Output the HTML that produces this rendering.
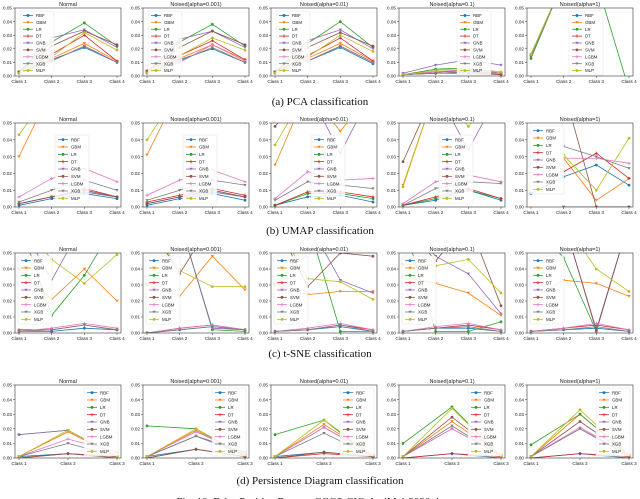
<!DOCTYPE html>
<html><head><meta charset="utf-8"><style>
body{margin:0;background:#fff;width:640px;height:499px;overflow:hidden;font-family:"Liberation Serif",serif}
svg{position:absolute;left:0;top:0}
</style></head><body>
<svg id="fig" width="640" height="499"></svg>
<script>
const NS="http://www.w3.org/2000/svg";
const seriesNames=["RBF","GBM","LR","DT","GNB","SVM","LGBM","XGB","MLP"];
const colors=["#1f77b4","#ff7f0e","#2ca02c","#d62728","#9467bd","#8c564b","#e377c2","#7f7f7f","#bcbd22"];
const titles=["Normal","Noised(alpha=0.001)","Noised(alpha=0.01)","Noised(alpha=0.1)","Noised(alpha=1)"];
const classes4=["Class 1","Class 2","Class 3","Class 4"];
const classes3=["Class 1","Class 2","Class 3"];
const yTicks=[0,0.01,0.02,0.03,0.04,0.05];
const yTickLabels=["0.00","0.01","0.02","0.03","0.04","0.05"];
const captions=["(a) PCA classification","(b) UMAP classification","(c) t-SNE classification","(d) Persistence Diagram classification"];
const H=0.07,N=null;
const pca=[
[[.002,.012,.021,.010],[.002,.013,.024,.011],[.003,.025,.039,.022],[.003,.016,.030,.011],[.003,.028,.034,.021],[.003,.022,.033,.023],[.002,.011,.022,.010],[.002,.011,.022,.010],[.002,.014,.032,.019]],
[[.002,.012,.020,.010],[.003,.013,.023,.012],[.003,.025,.038,.022],[.004,.015,.026,.012],[.002,.027,.033,.021],[.003,.021,.033,.023],[.002,.010,.023,.011],[.002,.011,.021,.010],[.002,.015,.028,.019]],
[[.002,.011,.021,.009],[.003,.013,.024,.011],[.003,.024,.040,.021],[.003,.015,.028,.011],[.003,.026,.034,.020],[.003,.021,.032,.022],[.002,.011,.022,.010],[.002,.011,.022,.010],[.002,.014,.030,.018]],
[[.001,.002,.002,.001],[.001,.003,.004,.002],[.001,.005,.006,.002],[.001,.002,.003,.001],[.002,.008,.012,.008],[.001,.003,.004,.002],[.001,.003,.005,.002],[.001,.002,.003,.002],[.001,.004,.006,.003]],
[[.015,H,H,H],[.016,H,H,H],[.013,H,H,-.01],[.015,H,H,H],[.016,H,H,H],[.015,H,H,H],[.015,H,H,H],[.015,H,H,H],[.016,H,H,H]]
];
const umap=[
[[.001,.005,.008,.005],[.030,H,H,H],[.002,.006,.009,.006],[.002,.006,.011,.006],[.002,.006,.009,.006],[.002,.006,.010,.006],[.006,.017,.023,.015],[.003,.010,.016,.010],[.043,H,H,H]],
[[.001,.005,.008,.004],[.031,H,H,.05],[.002,.006,.009,.006],[.003,.007,.011,.007],[.002,.006,.009,.006],[.002,.006,.010,.006],[.007,.016,.022,.015],[.004,.010,.016,.013],[.040,H,H,H]],
[[.001,.006,.007,.003],[.025,H,.045,H],[.001,.008,.008,.005],[.001,.009,.009,.006],[H,H,.032,H],[.048,H,H,H],[.005,.021,.016,.017],[.004,.015,.013,.011],[.037,H,H,H]],
[[.001,.004,.010,.004],[.013,H,H,H],[.001,.005,.010,.005],[.001,.006,.011,.005],[H,H,.034,H],[.027,H,H,H],[.002,.015,.019,.015],[.001,.011,.015,.014],[.012,H,.048,H]],
[[.008,.018,.025,.013],[N,.029,.004,.017],[N,0,0,0],[N,.021,.032,.017],[N,0,0,0],[N,H,0,0],[N,.029,.029,.026],[N,.036,.030,.023],[N,.031,.010,.041]]
];
const tsne=[
[[.001,.001,.003,.002],[.040,.021,.040,.020],[H,.011,.036,H],[.002,.002,.005,.002],[H,.033,H,H],[H,H,H,H],[.001,.003,.006,.003],[.001,.002,.005,.002],[H,.046,.031,.049]],
[[.000,.002,.004,.002],[.030,.023,.048,.027],[H,H,.002,.001],[.000,.003,.005,.002],[H,H,.003,.002],[H,.037,H,H],[.000,.003,.005,.002],[.000,.002,.004,.002],[H,.039,.029,.029]],
[[.001,.002,.004,.001],[.030,.024,.026,.026],[H,H,.001,.001],[.001,.002,.005,.002],[H,H,.033,.025],[H,.029,.050,.048],[.001,.003,.006,.002],[.001,.002,.005,.001],[H,.034,.032,.021]],
[[.001,.003,.003,.001],[.035,.031,.025,.011],[H,.001,.001,.007],[.001,.003,.005,.002],[H,.048,.037,.012],[H,.045,H,.017],[.001,.004,.006,.002],[.001,.003,.004,.001],[.043,.042,.046,.025]],
[[.001,.002,.003,.001],[.021,.033,.031,.023],[H,.047,.001,H],[.001,.003,.005,.002],[H,H,.001,H],[H,H,.002,H],[.001,.003,.006,.002],[.001,.002,.004,.001],[H,H,.040,.026]]
];
const pers=[
[[.001,.003,.001],[.001,.018,.001],[.016,.019,.001],[.000,.003,.001],[.016,.019,.001],[.000,.003,.000],[.001,.013,.004],[.001,.010,.001],[.001,.019,.001]],
[[.001,.006,.001],[.001,.019,.001],[.022,.020,.001],[.000,.006,.001],[.001,.015,.004],[.000,.006,.001],[.001,.018,.003],[.001,.015,.002],[.001,.020,.002]],
[[.001,.004,.001],[.001,.023,.002],[.016,.026,.000],[.000,.003,.001],[.001,.021,.002],[.000,.004,.001],[.001,.021,.002],[.001,.017,.001],[.001,.026,.002]],
[[.000,.003,.000],[.001,.025,.002],[.010,.035,.001],[.000,.003,.001],[.001,.020,.002],[.001,.028,.002],[.001,.020,.002],[.001,.022,.001],[.001,.034,.001]],
[[.000,.003,.000],[.001,.030,.002],[.009,.030,.002],[.000,.003,.001],[.001,.020,.002],[.001,.025,.002],[.001,.021,.002],[.001,.020,.001],[.001,.033,.002]]
];
const rows=[
 {data:pca,cls:classes4,top:8,bot:76,cap:101,leg:[[5,3],[5,3],[5,3],[58,3],[42,3]]},
 {data:umap,cls:classes4,top:123,bot:207,cap:230,leg:[[40,12],[40,12],[40,12],[40,12],[3,3]]},
 {data:tsne,cls:classes4,top:253,bot:333,cap:353,leg:[[3,3],[3,3],[3,3],[3,3],[3,3]]},
 {data:pers,cls:classes3,top:385,bot:458,cap:480,leg:[[69,3],[69,3],[69,3],[69,3],[69,3]]}
];
const svg=document.getElementById("fig");
function el(tag,attrs,parent,text){const e=document.createElementNS(NS,tag);for(const k in attrs)e.setAttribute(k,attrs[k]);if(text!==undefined)e.textContent=text;(parent||svg).appendChild(e);return e;}
function marker(g,x,y,c,i){
 if(i%3===1){el("path",{d:`M${x-1.6},${y-1.2}L${x+1.6},${y-1.2}L${x},${y+1.5}Z`,fill:c},g);}
 else if(i===3||i===6||i===7){el("path",{d:`M${x-1.6},${y}H${x+1.6}M${x},${y-1.6}V${y+1.6}`,stroke:c,"stroke-width":0.8},g);}
 else el("circle",{cx:x,cy:y,r:1.4,fill:c},g);
}
rows.forEach((r,ri)=>{
 for(let p=0;p<5;p++){
  const L=15+128*p,R=L+106,T=r.top,B=r.bot;
  const panel=el("g",{},svg);
  
  
  const n=r.cls.length;
  const xs=i=>L+4+i*(R-L-8)/(n-1);
  const ys=v=>B-(v/0.05)*(B-T);
  const cid="c"+ri+"_"+p;
  const cp=el("clipPath",{id:cid},panel);el("rect",{x:L,y:T,width:R-L,height:B-T},cp);
  const t=el("text",{x:(L+R)/2,y:T-2,"font-size":5.5,"text-anchor":"middle","font-family":"Liberation Sans, sans-serif",fill:"#222"},panel,titles[p]);
  
  yTicks.forEach((v,k)=>{el("line",{x1:L-2,x2:L,y1:ys(v),y2:ys(v),stroke:"#333","stroke-width":0.5},panel);
   el("text",{x:L-3,y:ys(v)+1.7,"font-size":4.6,"text-anchor":"end","font-family":"Liberation Sans, sans-serif",fill:"#222"},panel,yTickLabels[k]);});
  r.cls.forEach((c,k)=>{el("line",{x1:xs(k),x2:xs(k),y1:B,y2:B+2,stroke:"#333","stroke-width":0.5},panel);
   el("text",{x:xs(k),y:B+7,"font-size":4.6,"text-anchor":"middle","font-family":"Liberation Sans, sans-serif",fill:"#222"},panel,c);});
  const plot=el("g",{"clip-path":`url(#${cid})`},panel);
  r.data[p].forEach((s,si)=>{
   let d="";let pen=false;
   s.forEach((v,k)=>{if(v===null){pen=false;return;}d+=(pen?"L":"M")+xs(k)+","+ys(v);pen=true;});
   const line=el("path",{d:d,fill:"none",stroke:colors[si],"stroke-width":0.8},plot);
   
   
   s.forEach((v,k)=>{if(v!==null)marker(plot,xs(k),ys(v),colors[si],si);});
  });
  el("rect",{x:L,y:T,width:R-L,height:B-T,fill:"none",stroke:"#333","stroke-width":0.6},panel);
  const [lx,ly]=r.leg[p];const lh=Math.min(66,B-T-6);const step=lh/9;
  const lg=el("g",{},panel);
  
  el("rect",{x:L+lx,y:T+ly,width:34,height:lh+2,fill:"#fff","fill-opacity":0.85,stroke:"#ddd","stroke-width":0.4,rx:1},lg);
  seriesNames.forEach((nm,si)=>{const yy=T+ly+step*(si+0.5)+1;
   el("line",{x1:L+lx+3,x2:L+lx+13,y1:yy,y2:yy,stroke:colors[si],"stroke-width":0.8},lg);
   marker(lg,L+lx+8,yy,colors[si],si);
   el("text",{x:L+lx+16,y:yy+1.6,"font-size":4.4,"font-family":"Liberation Sans, sans-serif",fill:"#222"},lg,nm);});
 }
 const cap=el("text",{x:320,y:r.cap+4,"font-size":11,"text-anchor":"middle",fill:"#111"},svg,captions[ri]);
 
});
const fc=el("text",{x:320,y:505,"font-size":11,"text-anchor":"middle",fill:"#111"},svg,"Fig. 10: False Positive Rate on CCCS-CIC-AndMal-2020 dataset");

</script>
</body></html>
